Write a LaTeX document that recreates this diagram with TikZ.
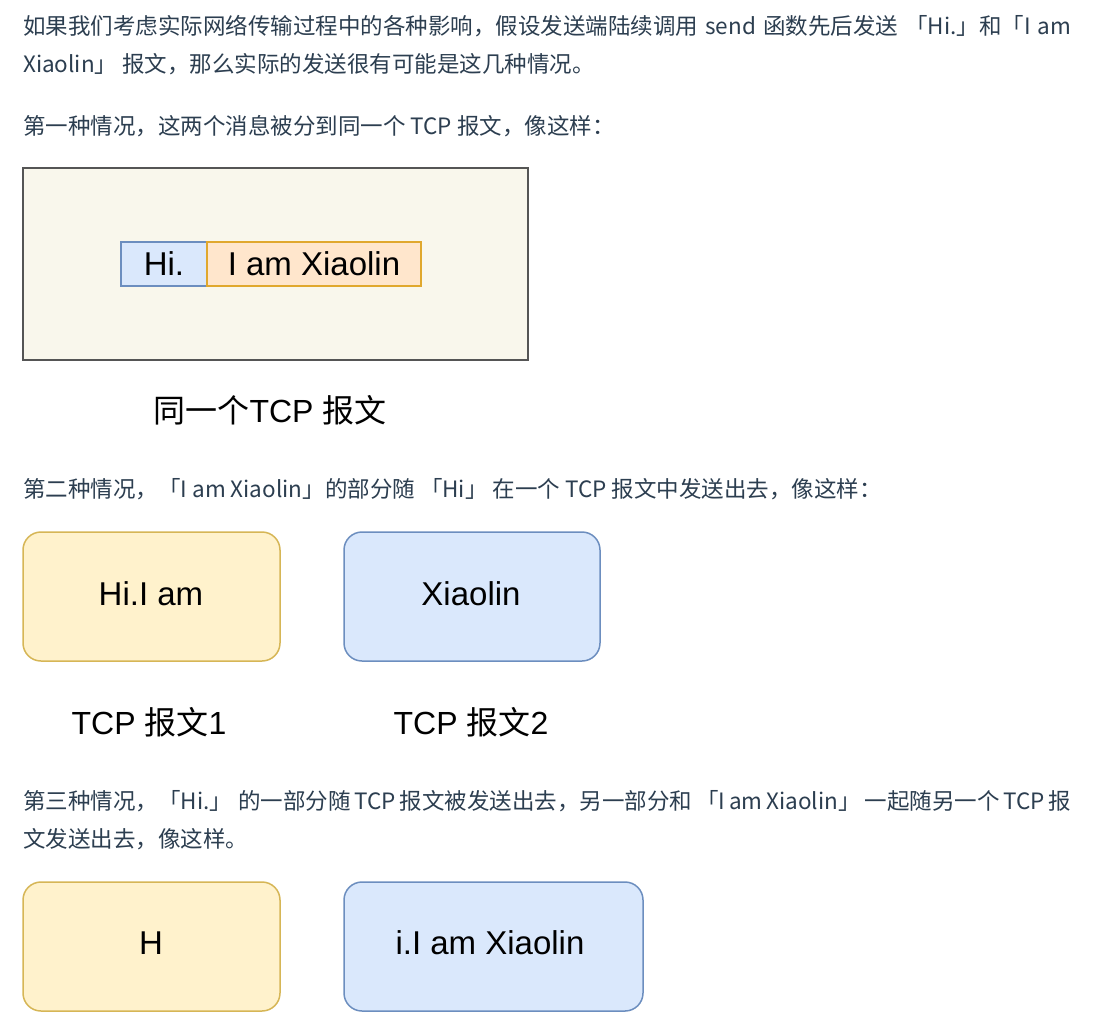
\documentclass[tikz,border=0pt]{standalone}
\usepackage{fontspec}
\setmainfont{Liberation Sans}
\newfontfamily\cjk{Noto Sans CJK SC}
\XeTeXinterchartokenstate=1
\XeTeXinterchartoks 1 1 = {\hskip 0pt plus 1pt\relax}
\XeTeXinterchartoks 1 2 = {\hskip 0pt plus 1pt\relax}
\XeTeXinterchartoks 1 3 = {\hskip 0pt plus 1pt\relax}
\XeTeXinterchartoks 3 1 = {\hskip 0pt plus 1pt\relax}
\XeTeXinterchartoks 2 1 = {\hskip 0pt plus 1pt\relax}
\XeTeXinterchartoks 3 2 = {\hskip 0pt plus 1pt\relax}
\definecolor{bodytext}{HTML}{2C3E50}
\definecolor{beige}{HTML}{F9F7EC}
\definecolor{framegray}{HTML}{555555}
\definecolor{bluefill}{HTML}{DAE8FC}
\definecolor{blueline}{HTML}{6C8EBF}
\definecolor{orangefill}{HTML}{FFE6CC}
\definecolor{orangeline}{HTML}{E0A82E}
\definecolor{yellowfill}{HTML}{FFF2CC}
\definecolor{yellowline}{HTML}{D6B656}
\begin{document}
\begin{tikzpicture}[x=1pt,y=-1pt,
  bodyline/.style={anchor=west,inner sep=0pt,text=bodytext,font=\cjk\fontsize{22.5}{27}\selectfont},
  caption/.style={inner sep=0pt,text=black,font=\fontsize{32}{38}\selectfont},
  boxtext/.style={inner sep=0pt,text=black,font=\fontsize{33}{38}\selectfont},
  ybox/.style={draw=yellowline,fill=yellowfill,line width=1.5pt,rounded corners=18pt},
  bbox/.style={draw=blueline,fill=bluefill,line width=1.5pt,rounded corners=18pt}]
\useasboundingbox (0,0) rectangle (1099,1021);
\fill[white] (0,0) rectangle (1099,1021);

% paragraph 1
\node[bodyline] (p1a) at (23,26) {\makebox[1048pt][s]{如果我们考虑实际网络传输过程中的各种影响，假设发送端陆续调用 send 函数先后发送 「Hi.」和「I am}};
\node[bodyline] (p1b) at (23,64) {Xiaolin」 报文，那么实际的发送很有可能是这几种情况。};
\node[bodyline] (p2) at (23,126) {第一种情况，这两个消息被分到同一个 TCP 报文，像这样：};

% figure 1
\draw[draw=framegray,fill=beige,line width=1.5pt] (23,168) rectangle (528,360);
\node[draw=blueline,fill=bluefill,line width=1.2pt,minimum width=86pt,minimum height=44pt,inner sep=0pt] (hi) at (164,264) {};
\node[draw=orangeline,fill=orangefill,line width=1.2pt,minimum width=214pt,minimum height=44pt,inner sep=0pt] (iam) at (314,264) {};
\node[boxtext] at (hi.center) {Hi.};
\node[boxtext] at (iam.center) {I am Xiaolin};
\node[caption] (cap1) at (270,410) {{\cjk 同一个}TCP {\cjk 报文}};

% paragraph 3
\node[bodyline] (p3) at (23,489) {第二种情况，「I am Xiaolin」的部分随 「Hi」 在一个 TCP 报文中发送出去，像这样：};

% figure 2
\path[ybox] (23,532) rectangle (280,661);
\node[boxtext] (s1) at (151,594) {Hi.I am};
\path[bbox] (344,532) rectangle (600,661);
\node[boxtext] (s2) at (471,594) {Xiaolin};
\node[caption] (cap2) at (149,722) {TCP {\cjk 报文}1};
\node[caption] (cap3) at (471,722) {TCP {\cjk 报文}2};

% paragraph 4
\node[bodyline] (p4a) at (23,801) {\makebox[1048pt][s]{第三种情况，「Hi.」 的一部分随 TCP 报文被发送出去，另一部分和 「I am Xiaolin」 一起随另一个 TCP 报}};
\node[bodyline] (p4b) at (23,839) {文发送出去，像这样。};

% figure 3
\path[ybox] (23,882) rectangle (280,1011);
\node[boxtext] (t1) at (151,943) {H};
\path[bbox] (344,882) rectangle (643,1011);
\node[boxtext] (t2) at (490,943) {i.I am Xiaolin};
\end{tikzpicture}
\end{document}
